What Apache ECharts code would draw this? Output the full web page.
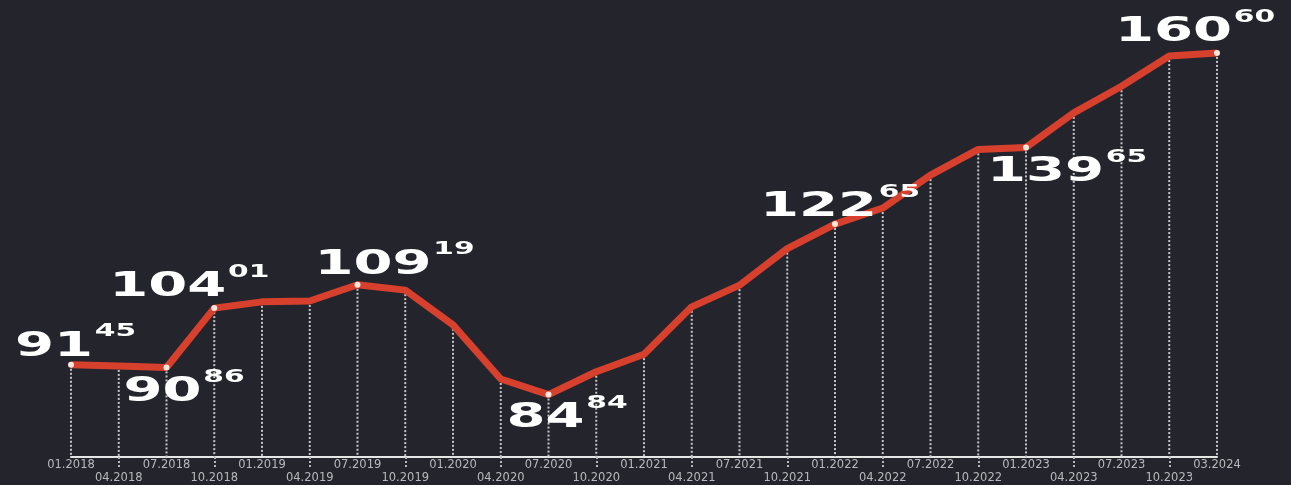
<!DOCTYPE html>
<html>
<head>
<meta charset="utf-8">
<script src="https://cdn.jsdelivr.net/npm/echarts@6/dist/echarts.min.js"></script>
<style>
  html, body { margin: 0; padding: 0; background: #24252c; }
  #chart { width: 1291px; height: 485px; }
</style>
</head>
<body>
<div id="chart"></div>
<script>
// quarterly points, 01.2018 .. 03.2024
const periods = [
  '01.2018', '04.2018', '07.2018', '10.2018',
  '01.2019', '04.2019', '07.2019', '10.2019',
  '01.2020', '04.2020', '07.2020', '10.2020',
  '01.2021', '04.2021', '07.2021', '10.2021',
  '01.2022', '04.2022', '07.2022', '10.2022',
  '01.2023', '04.2023', '07.2023', '10.2023',
  '03.2024'
]
const values = [
  91.45, 91.2, 90.86, 104.01,
  105.4, 105.6, 109.19, 108.0,
  100.3, 88.3, 84.84, 89.9,
  93.8, 104.3, 109.1, 117.2,
  122.65, 126.2, 133.5, 139.2,
  139.65, 147.3, 153.2, 159.9,
  160.60
]
// points that carry the big value label
const labelled = [0, 2, 3, 6, 10, 16, 20, 24]

// label placement relative to the point: [dx to left edge, dy to digit bottom]
const labelPos = {
  0: [-56, -8], 2: [-43, 35], 3: [-105, -11], 6: [-43, -10],
  10: [-42, 34], 16: [-75, -7], 20: [-39, 35], 24: [-102, -11]
}

const Y_MIN = 71
const Y_MAX = 171

const chart = echarts.init(document.getElementById('chart'))

const dropData = values.map((v, i) => [i, v])
const labelData = labelled.map(i => [i, values[i]])

chart.setOption({
  backgroundColor: '#24252c',
  animation: false,
  grid: { left: 71, right: 74, top: 6, bottom: 21 },
  xAxis: {
    type: 'category',
    data: periods,
    boundaryGap: false,
    axisLine: { lineStyle: { color: '#e6e6e6', width: 2 } },
    axisTick: {
      show: true,
      interval: (i) => i % 2 === 1,
      length: 12,
      lineStyle: { color: '#b8b8b8', width: 2, type: [2, 2] }
    },
    axisLabel: {
      interval: 0,
      margin: 2,
      color: '#b9b9bd',
      fontFamily: 'DejaVu Sans',
      fontSize: 11.5,
      lineHeight: 13,
      formatter: (v, i) => (i % 2 ? '\n' + v : v)
    },
    splitLine: { show: false }
  },
  yAxis: {
    type: 'value',
    min: Y_MIN,
    max: Y_MAX,
    show: false,
    splitLine: { show: false }
  },
  series: [
    {
      // dotted drop line from every point to the axis
      type: 'custom',
      data: dropData,
      silent: true,
      z: 1,
      renderItem: (params, api) => {
        const top = api.coord([api.value(0), api.value(1)])
        const bottom = api.coord([api.value(0), Y_MIN])
        return {
          type: 'line',
          shape: { x1: top[0], y1: top[1] + 4, x2: bottom[0], y2: bottom[1] },
          style: { stroke: '#c4c4c8', lineWidth: 2, lineDash: [2, 2] }
        }
      }
    },
    {
      type: 'line',
      data: values,
      z: 3,
      color: '#d8402e',
      lineStyle: { color: '#d8402e', width: 7 },
      symbol: 'circle',
      symbolSize: (val, p) => (labelled.includes(p.dataIndex) ? 6 : 0),
      itemStyle: { color: '#fde6de', borderWidth: 0 },
      emphasis: { disabled: true }
    },
    {
      // big value labels: integer part + raised decimals
      type: 'custom',
      data: labelData,
      silent: true,
      z: 5,
      renderItem: (params, api) => {
        const idx = api.value(0)
        const v = api.value(1)
        const p = api.coord([idx, v])
        const off = labelPos[idx]
        const whole = Math.floor(v)
        const dec = v.toFixed(2).split('.')[1]
        return {
          type: 'text',
          x: p[0] + off[0],
          y: p[1] + off[1] + 7,
          scaleX: 1.65,
          style: {
            text: '{i|' + whole + '}{d|' + dec + '}',
            textAlign: 'left',
            textVerticalAlign: 'bottom',
            fill: '#fff',
            rich: {
              i: { fontFamily: 'DejaVu Sans', fontWeight: 'bold', fontSize: 34, lineHeight: 41, color: '#fff', verticalAlign: 'bottom' },
              d: { fontFamily: 'DejaVu Sans', fontWeight: 'bold', fontSize: 18, color: '#fff', verticalAlign: 'top', padding: [0, 0, 0, 1] }
            }
          }
        }
      }
    }
  ]
})
</script>
</body>
</html>
